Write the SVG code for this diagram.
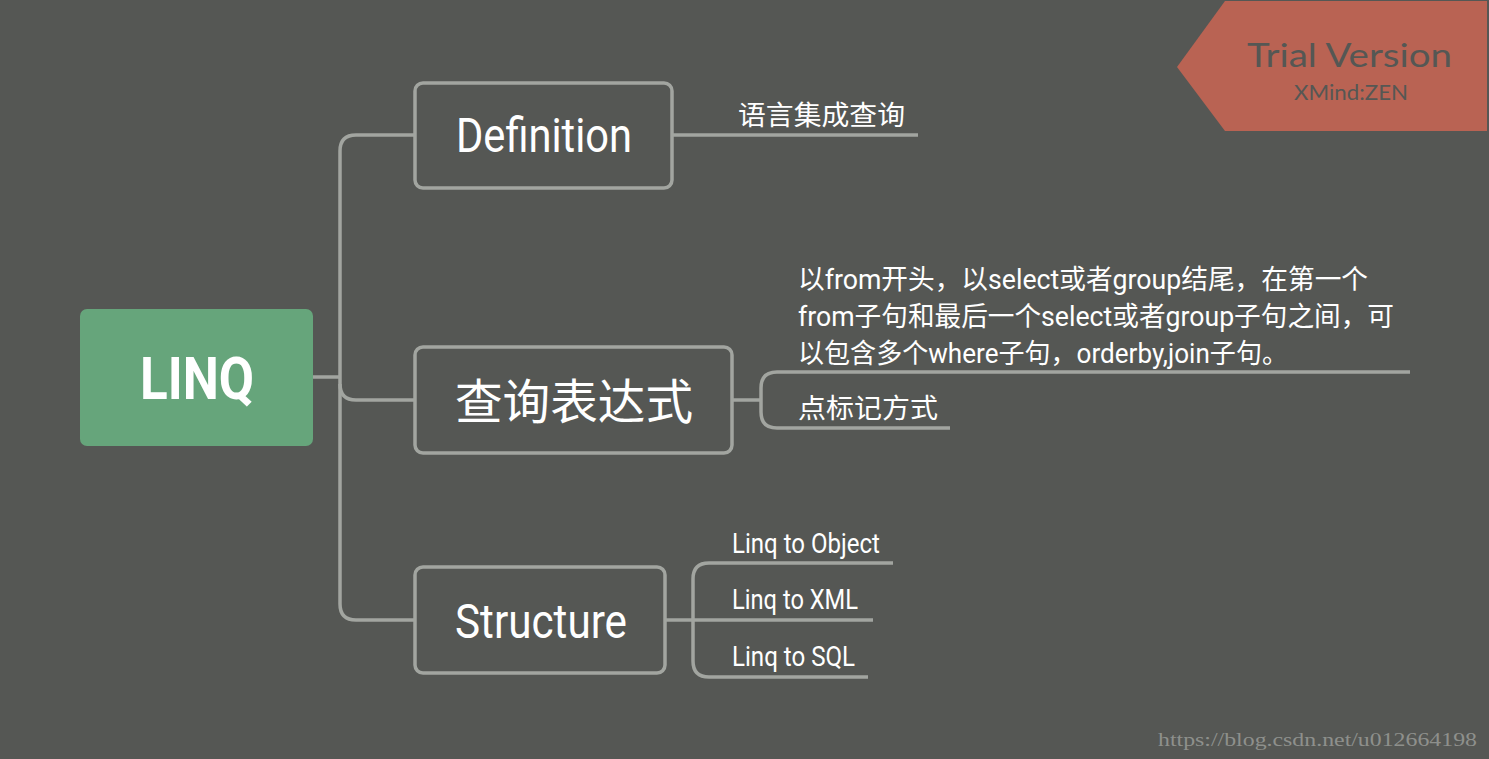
<svg xmlns="http://www.w3.org/2000/svg" width="1489" height="759" viewBox="0 0 1489 759">
<style>
.bg{fill:#555754}
.line{fill:none;stroke:#a2a5a0;stroke-width:3.5;stroke-linecap:butt}
.box{fill:#555754;stroke:#a2a5a0;stroke-width:3.5}
.t{fill:#ffffff;font-family:"Roboto","Noto Sans CJK SC",sans-serif}
.big{font-size:48px;font-weight:400}
.small{font-size:27px}
.cjk{font-family:"Noto Sans CJK SC",sans-serif}
</style>
<rect class="bg" x="0" y="0" width="1489" height="759"/>
<g id="connectors">
  <path class="line" d="M313,377 H340"/>
  <path class="line" d="M415,135 H356 Q340,135 340,151 V604 Q340,620 356,620 H415"/>
  <path class="line" d="M340,384 Q340,400 356,400 H415"/>
  <path class="line" d="M672,135 H918"/>
  <path class="line" d="M732,400 H761"/>
  <path class="line" d="M1410,372 H777 Q761,372 761,388 V412 Q761,428 777,428 H950"/>
  <path class="line" d="M665,620 H873"/>
  <path class="line" d="M893,563 H709 Q693,563 693,579 V661 Q693,677 709,677 H868"/>
</g>
<g id="node-linq">
  <rect x="80" y="309" width="233" height="137" rx="7" fill="#66a57b"/>
  <text class="t" x="140" y="399" font-size="60" font-weight="700" textLength="114" lengthAdjust="spacingAndGlyphs">LINQ</text>
</g>
<g id="node-definition">
  <rect class="box" x="415" y="83" width="257" height="105" rx="8"/>
  <text class="t big" x="456" y="152" textLength="176" lengthAdjust="spacingAndGlyphs">Definition</text>
</g>
<g id="node-query">
  <rect class="box" x="415" y="347" width="317" height="106" rx="8"/>
  <text class="t big cjk" x="455" y="419" textLength="238" lengthAdjust="spacingAndGlyphs">查询表达式</text>
</g>
<g id="node-structure">
  <rect class="box" x="415" y="567" width="250" height="106" rx="8"/>
  <text class="t big" x="455" y="638" textLength="172" lengthAdjust="spacingAndGlyphs">Structure</text>
</g>
<g id="leaf-def">
  <text class="t small" x="738" y="125" textLength="167" lengthAdjust="spacingAndGlyphs">语言集成查询</text>
</g>
<g id="leaf-query-1">
  <text class="t small" x="798" y="289" textLength="570" lengthAdjust="spacingAndGlyphs">以from开头，以select或者group结尾，在第一个</text>
  <text class="t small" x="798" y="326" textLength="596" lengthAdjust="spacingAndGlyphs">from子句和最后一个select或者group子句之间，可</text>
  <text class="t small" x="798" y="363" textLength="490" lengthAdjust="spacingAndGlyphs">以包含多个where子句，orderby,join子句。</text>
</g>
<g id="leaf-query-2">
  <text class="t small" x="798" y="418" textLength="140" lengthAdjust="spacingAndGlyphs">点标记方式</text>
</g>
<g id="leaf-struct-1">
  <text class="t small" x="732" y="553" textLength="148" lengthAdjust="spacingAndGlyphs">Linq to Object</text>
</g>
<g id="leaf-struct-2">
  <text class="t small" x="732" y="609" textLength="126" lengthAdjust="spacingAndGlyphs">Linq to XML</text>
</g>
<g id="leaf-struct-3">
  <text class="t small" x="732" y="666" textLength="123" lengthAdjust="spacingAndGlyphs">Linq to SQL</text>
</g>
<g id="trial-banner">
  <polygon points="1177,67 1225,1 1487,1 1487,131 1225,131" fill="#b96353"/>
  <text x="1247" y="67" font-family="Lato,'Open Sans',sans-serif" font-size="33" fill="#555754" textLength="205" lengthAdjust="spacingAndGlyphs">Trial Version</text>
  <text x="1294" y="100" font-family="Lato,'Open Sans',sans-serif" font-size="21" fill="#555754" textLength="114" lengthAdjust="spacingAndGlyphs">XMind:ZEN</text>
</g>
<g id="watermark">
  <text x="1158" y="746" font-family="'Liberation Serif',serif" font-size="19" fill="#8e908c" textLength="319" lengthAdjust="spacingAndGlyphs">https://blog.csdn.net/u012664198</text>
</g>
</svg>
